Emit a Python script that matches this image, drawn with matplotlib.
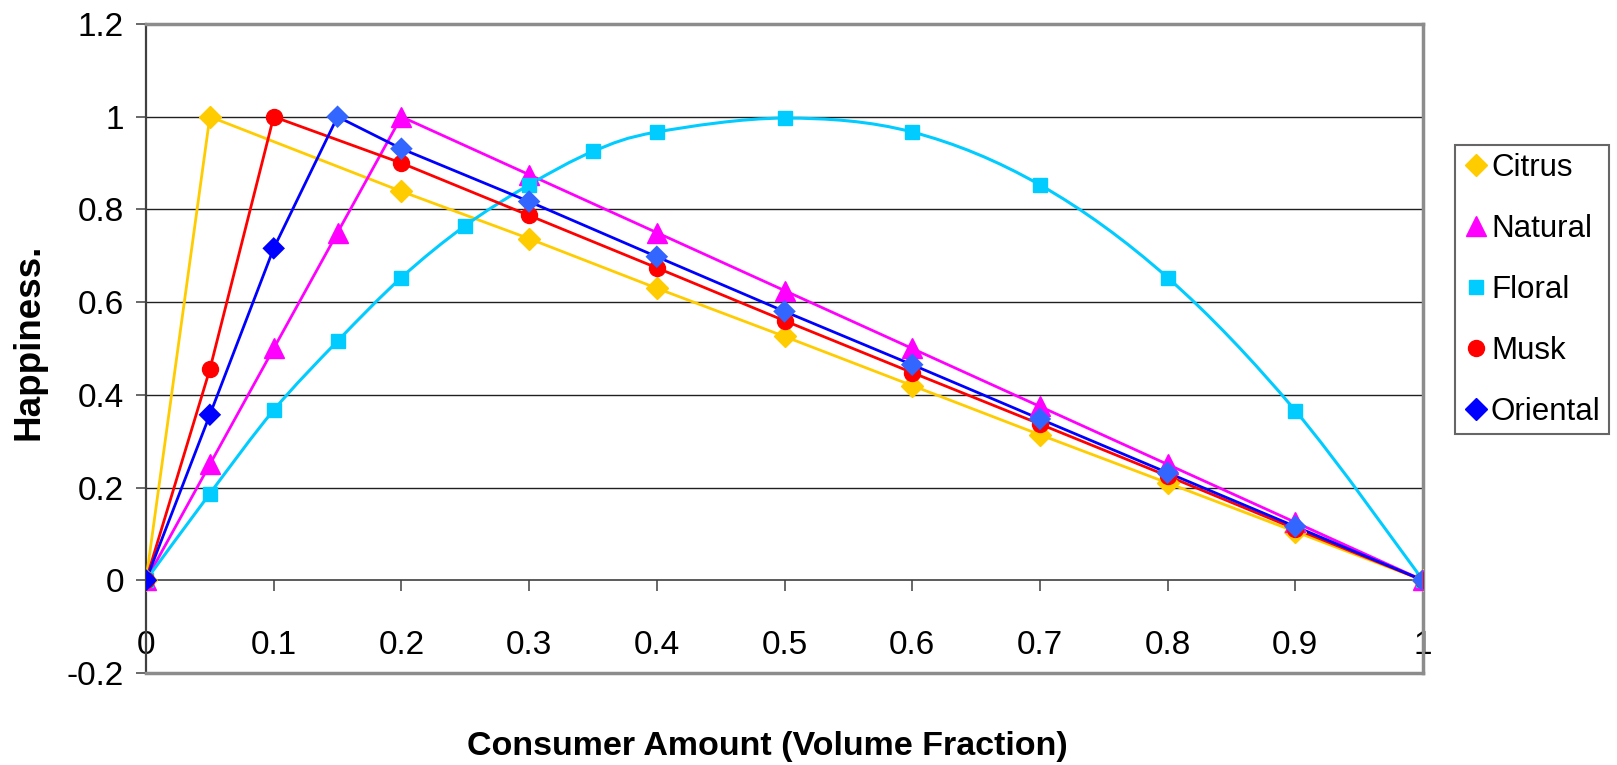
import numpy as np
import matplotlib
matplotlib.use("Agg")
import matplotlib.pyplot as plt
from matplotlib import font_manager
from matplotlib.path import Path
from matplotlib.patches import PathPatch
from matplotlib.lines import Line2D
from matplotlib.ticker import FuncFormatter, MultipleLocator

# happiness vs. volume fraction for each scent family
x_citrus = [0, 0.05, 0.2, 0.3, 0.4, 0.5, 0.6, 0.7, 0.8, 0.9, 1.0]
y_citrus = [0, 1.0, 0.839, 0.737, 0.630, 0.526, 0.420, 0.314, 0.210, 0.105, 0]

x_natural = [0, 0.05, 0.1, 0.15, 0.2, 0.3, 0.4, 0.5, 0.6, 0.7, 0.8, 0.9, 1.0]
y_natural = [0, 0.25, 0.5, 0.75, 1.0, 0.875, 0.75, 0.625, 0.5, 0.375, 0.25, 0.125, 0]

x_floral = [0, 0.05, 0.1, 0.15, 0.2, 0.25, 0.3, 0.35, 0.4, 0.5, 0.6, 0.7, 0.8, 0.9, 1.0]
y_floral = [0, 0.187, 0.367, 0.516, 0.653, 0.765, 0.853, 0.925, 0.967, 0.997, 0.967, 0.853, 0.653, 0.366, 0]

x_musk = [0, 0.05, 0.1, 0.2, 0.3, 0.4, 0.5, 0.6, 0.7, 0.8, 0.9, 1.0]
y_musk = [0, 0.455, 1.0, 0.900, 0.787, 0.674, 0.560, 0.448, 0.337, 0.225, 0.111, 0]

x_oriental = [0, 0.05, 0.1, 0.15, 0.2, 0.3, 0.4, 0.5, 0.6, 0.7, 0.8, 0.9, 1.0]
y_oriental = [0, 0.357, 0.716, 1.0, 0.931, 0.817, 0.698, 0.580, 0.465, 0.348, 0.232, 0.116, 0]

x_label = "Consumer Amount (Volume Fraction)"
y_label = "Happiness."

plt.rcParams["font.family"] = ["Liberation Sans", "DejaVu Sans"]
plt.rcParams["axes.unicode_minus"] = False

installed = {f.name for f in font_manager.fontManager.ttflist}
narrow = "Liberation Sans Narrow" if "Liberation Sans Narrow" in installed else None


def smooth_path(xs, ys):
    """Cubic bezier through the points, like a spreadsheet 'smoothed line'."""
    p = np.column_stack([xs, ys]).astype(float)
    n = len(p)
    verts = [p[0]]
    codes = [Path.MOVETO]
    for i in range(n - 1):
        p0 = p[max(i - 1, 0)]
        p3 = p[min(i + 2, n - 1)]
        c1 = p[i] + (p[i + 1] - p0) / 6.0
        c2 = p[i + 1] - (p3 - p[i]) / 6.0
        verts += [c1, c2, p[i + 1]]
        codes += [Path.CURVE4] * 3
    return Path(verts, codes)


fig = plt.figure(figsize=(16.17, 7.65), dpi=100)
ax = fig.add_axes([146 / 1617, 92 / 765, 1277 / 1617, 649 / 765])

ax.set_xlim(0, 1)
ax.set_ylim(-0.2, 1.2)

lw = 2.0
ms_d, ms_t, ms_s, ms_o = 11.5, 14, 10.5, 11.5
c_citrus, c_natural, c_floral, c_musk = "#FFCC00", "#FF00FF", "#00CCFF", "#FF0000"
c_oriental, c_oriental_light = "#0000FF", "#3366FF"

ax.plot(x_citrus, y_citrus, color=c_citrus, lw=lw, zorder=3)
ax.plot(x_citrus, y_citrus, ls="none", marker="D", ms=ms_d, color=c_citrus, zorder=4)

ax.plot(x_natural, y_natural, color=c_natural, lw=lw, zorder=3)
ax.plot(x_natural, y_natural, ls="none", marker="^", ms=ms_t, color=c_natural, zorder=4)

ax.add_patch(PathPatch(smooth_path(x_floral, y_floral), fill=False,
                       edgecolor=c_floral, lw=lw + 0.2, zorder=3))
ax.plot(x_floral, y_floral, ls="none", marker="s", ms=ms_s, color=c_floral, zorder=4)

ax.plot(x_musk, y_musk, color=c_musk, lw=lw, zorder=3)
ax.plot(x_musk, y_musk, ls="none", marker="o", ms=ms_o, color=c_musk, zorder=4)

ax.plot(x_oriental, y_oriental, color=c_oriental, lw=lw, zorder=3)
peak = int(np.argmax(y_oriental))
ori_colors = [c_oriental if i < peak else c_oriental_light for i in range(len(y_oriental))]
ax.scatter(x_oriental, y_oriental, marker="D", s=ms_d ** 2, c=ori_colors,
           linewidths=0, zorder=4)

# grid and frame
ax.yaxis.set_major_locator(MultipleLocator(0.2))
ax.xaxis.set_major_locator(MultipleLocator(0.1))
for v in np.arange(0.2, 1.01, 0.2):
    ax.axhline(v, color="#202020", lw=1.0, zorder=1)
ax.axhline(-0.2, color="#8c8c8c", lw=2.5, zorder=5, clip_on=False)

ax.spines["bottom"].set_position(("data", 0))
ax.spines["bottom"].set_color("#404040")
ax.spines["bottom"].set_linewidth(1.2)
ax.spines["left"].set_color("#404040")
ax.spines["left"].set_linewidth(1.6)
for s in ("top", "right"):
    ax.spines[s].set_color("#8c8c8c")
    ax.spines[s].set_linewidth(2.5)

fmt = FuncFormatter(lambda v, _: f"{v:g}")
ax.xaxis.set_major_formatter(fmt)
ax.yaxis.set_major_formatter(fmt)
ax.tick_params(axis="x", direction="out", length=8, width=1.1, color="#404040",
               labelsize=24, pad=28)
ax.tick_params(axis="y", direction="out", length=7, width=1.1, color="#404040",
               labelsize=24, pad=9)

if narrow:
    fig.text(769 / 1617, 10 / 765, x_label, family=narrow, fontweight="bold",
             fontsize=29, ha="center", va="baseline")
else:
    fig.text(767 / 1617, 10 / 765, x_label, fontweight="bold",
             fontsize=24.5, ha="center", va="baseline")
fig.text(29 / 1617, 1 - 342 / 765, y_label, fontweight="bold", fontsize=26.5,
         rotation=90, ha="center", va="center")

handles = [
    Line2D([], [], ls="none", marker="D", ms=ms_d, color=c_citrus),
    Line2D([], [], ls="none", marker="^", ms=ms_t, color=c_natural),
    Line2D([], [], ls="none", marker="s", ms=ms_s, color=c_floral),
    Line2D([], [], ls="none", marker="o", ms=ms_o, color=c_musk),
    Line2D([], [], ls="none", marker="D", ms=ms_d, color=c_oriental),
]
names = ["Citrus", "Natural", "Floral", "Musk", "Oriental"]
leg = fig.legend(handles, names, loc="upper left",
                 bbox_to_anchor=(1455 / 1617, 1 - 145 / 765),
                 bbox_transform=fig.transFigure, borderaxespad=0,
                 fontsize=22.5, frameon=True, fancybox=False, shadow=False,
                 handlelength=0.85, handletextpad=0.05, borderpad=0.25,
                 labelspacing=0.99)
leg.get_frame().set_edgecolor("#404040")
leg.get_frame().set_linewidth(1.5)

fig.savefig("out.png", dpi=100)
